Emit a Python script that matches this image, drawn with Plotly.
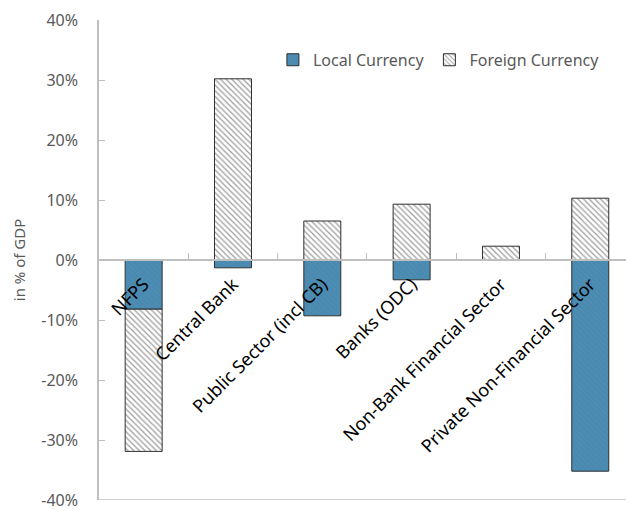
import plotly.graph_objects as go

# Currency composition of net positions by sector
sectors = ["NFPS", "Central Bank", "Public Sector (incl CB)", "Banks (ODC)",
           "Non-Bank Financial Sector", "Private Non-Financial Sector"]
local_ccy = [-8.2, -1.3, -9.3, -3.3, 0.0, -35.2]
foreign_ccy = [-23.7, 30.2, 6.5, 9.3, 2.3, 10.3]

y_ticks = [-40, -30, -20, -10, 0, 10, 20, 30, 40]
y_tick_text = [f"{v}%" for v in y_ticks]

FONT = "Noto Sans, Open Sans, sans-serif"
GREY = "#595959"

fig = go.Figure()
fig.add_trace(go.Bar(
    name="Local Currency", x=sectors, y=local_ccy, width=0.414,
    marker=dict(color="#4A8AB0", line=dict(color="#2f2f2f", width=1),
                pattern=dict(shape="\\", fgcolor="#5592b6", bgcolor="#4A8AB0",
                             size=4, solidity=0.3)),
))
fig.add_trace(go.Bar(
    name="Foreign Currency", x=sectors, y=foreign_ccy, width=0.414,
    marker=dict(color="white", line=dict(color="#2f2f2f", width=1),
                pattern=dict(shape="\\", fgcolor="#3a3a3a", bgcolor="white",
                             size=4, solidity=0.3)),
))

fig.update_layout(
    width=626, height=510,
    margin=dict(l=99, r=0, t=20, b=10),
    barmode="relative",
    plot_bgcolor="white", paper_bgcolor="white",
    font=dict(family=FONT, size=15, color=GREY),
    showlegend=True,
    legend=dict(orientation="h", x=0.33, y=0.917, xanchor="left", yanchor="middle",
                font=dict(size=16, color=GREY), bgcolor="rgba(0,0,0,0)",
                itemwidth=30, traceorder="normal"),
    xaxis=dict(
        type="category", range=[-0.5, 5.4],
        anchor="free", position=0.5, automargin=False,
        showline=True, linecolor="#bfbfbf", linewidth=1.5,
        ticks="inside", tickson="boundaries", ticklen=6, tickcolor="#bfbfbf",
        ticklabelstandoff=6,
        tickangle=-45, tickfont=dict(size=18, color="#000000", family=FONT),
        showgrid=False, zeroline=False,
    ),
    yaxis=dict(
        range=[-40, 40], tickvals=y_ticks, ticktext=y_tick_text,
        automargin=False,
        showline=True, linecolor="#bfbfbf", linewidth=1.5,
        ticks="inside", ticklen=6, tickcolor="#bfbfbf",
        ticklabelstandoff=16, ticklabeloverflow="allow",
        tickfont=dict(size=16, color=GREY),
        showgrid=False, zeroline=False,
        title=dict(text="in % of GDP", font=dict(size=15, color=GREY), standoff=12),
    ),
)

# Bottom frame line at the lower end of the value axis
fig.add_shape(type="line", xref="paper", yref="y", x0=0, x1=1, y0=-40, y1=-40,
              line=dict(color="#bfbfbf", width=1.5), layer="above")

fig.write_html("out.html")
